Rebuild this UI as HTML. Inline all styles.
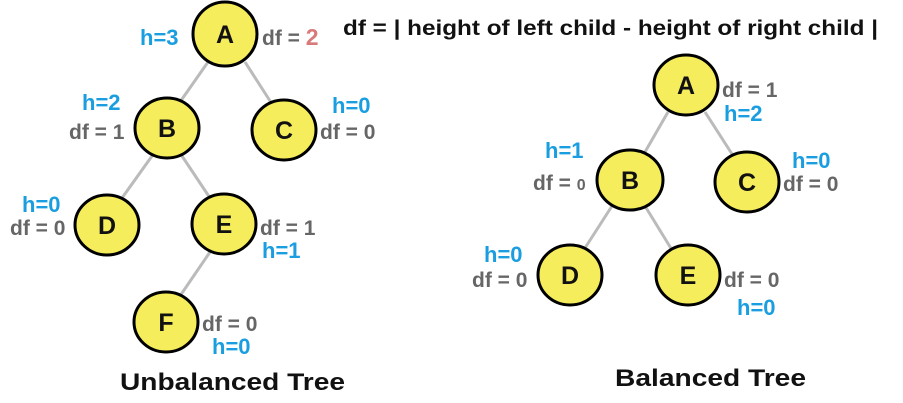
<!DOCTYPE html>
<html><head><meta charset="utf-8"><style>
body{margin:0;background:#fff;width:903px;height:403px;overflow:hidden}
svg{display:block;font-family:"Liberation Sans",sans-serif;font-weight:bold}
.n{fill:#f6ed5c;stroke:#000;stroke-width:3}
.l{stroke:#bbb;stroke-width:3}
.t{font-size:25px;fill:#111;text-anchor:middle;dominant-baseline:central}
.g{font-size:21px;fill:#666}
.h{font-size:22px;fill:#1a9ee0}
</style></head><body>
<svg width="903" height="403">
<text x="343" y="35" font-size="21" fill="#111" textLength="535" lengthAdjust="spacingAndGlyphs">df = | height of left child - height of right child |</text>
<g>
<line class="l" x1="208" y1="62" x2="180" y2="102"/><line class="l" x1="245" y1="62" x2="272" y2="104"/>
<line class="l" x1="152" y1="156" x2="122" y2="198"/><line class="l" x1="182" y1="156" x2="210" y2="198"/>
<line class="l" x1="210" y1="252" x2="180" y2="296"/>
<g><ellipse class="n" cx="225" cy="34" rx="32" ry="32"/><text class="t" x="225" y="35">A</text></g>
<g><ellipse class="n" cx="167" cy="128" rx="32" ry="30"/><text class="t" x="167" y="129">B</text></g>
<g><ellipse class="n" cx="284" cy="130" rx="32" ry="30"/><text class="t" x="284" y="131">C</text></g>
<g><ellipse class="n" cx="107" cy="225" rx="32" ry="30"/><text class="t" x="107" y="226">D</text></g>
<g><ellipse class="n" cx="224" cy="224" rx="32" ry="30"/><text class="t" x="224" y="225">E</text></g>
<g><ellipse class="n" cx="166" cy="322" rx="32" ry="30"/><text class="t" x="166" y="323">F</text></g>
<text class="h" x="140" y="45">h=3</text>
<text class="g" x="262" y="45">df = <tspan fill="#d97a7a" font-size="23">2</tspan></text>
<text class="h" x="82" y="110">h=2</text>
<text class="g" x="69" y="139">df = 1</text>
<text class="h" x="332" y="113">h=0</text>
<text class="g" x="320" y="139">df = 0</text>
<text class="h" x="22" y="212">h=0</text>
<text class="g" x="10" y="235">df = 0</text>
<text class="g" x="260" y="235">df = 1</text>
<text class="h" x="262" y="258">h=1</text>
<text class="g" x="202" y="331">df = 0</text>
<text class="h" x="212" y="354">h=0</text>
<text x="120" y="390" font-size="24" fill="#111" textLength="225" lengthAdjust="spacingAndGlyphs">Unbalanced Tree</text>
</g>
<g>
<line class="l" x1="668" y1="112" x2="645" y2="152"/><line class="l" x1="705" y1="112" x2="732" y2="154"/>
<line class="l" x1="612" y1="206" x2="585" y2="248"/><line class="l" x1="645" y1="206" x2="672" y2="250"/>
<g><ellipse class="n" cx="686" cy="85" rx="32" ry="30"/><text class="t" x="686" y="86">A</text></g>
<g><ellipse class="n" cx="630" cy="180" rx="33" ry="30"/><text class="t" x="630" y="181">B</text></g>
<g><ellipse class="n" cx="747" cy="182" rx="32" ry="30"/><text class="t" x="747" y="183">C</text></g>
<g><ellipse class="n" cx="570" cy="275" rx="32" ry="30"/><text class="t" x="570" y="276">D</text></g>
<g><ellipse class="n" cx="688" cy="275" rx="32" ry="30"/><text class="t" x="688" y="276">E</text></g>
<text class="g" x="722" y="97">df = 1</text>
<text class="h" x="724" y="121">h=2</text>
<text class="h" x="545" y="158">h=1</text>
<text class="g" x="533" y="190">df = <tspan font-size="16">0</tspan></text>
<text class="h" x="792" y="168">h=0</text>
<text class="g" x="783" y="191">df = 0</text>
<text class="h" x="484" y="262">h=0</text>
<text class="g" x="472" y="287">df = 0</text>
<text class="g" x="724" y="287">df =  0</text>
<text class="h" x="737" y="315">h=0</text>
<text x="615" y="386" font-size="24" fill="#111" textLength="191" lengthAdjust="spacingAndGlyphs">Balanced Tree</text>
</g>
</svg>
</body></html>
